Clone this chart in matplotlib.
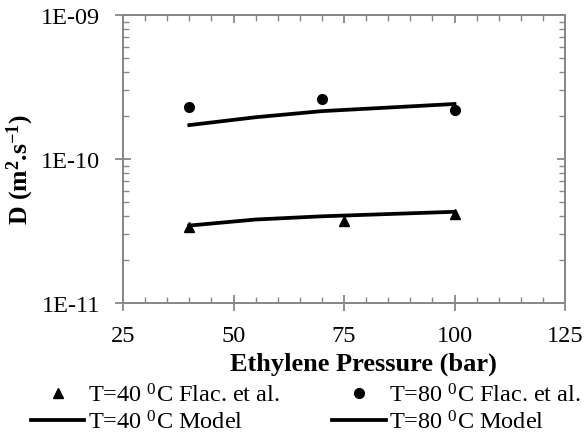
import matplotlib
matplotlib.use("Agg")
import matplotlib.pyplot as plt
from matplotlib.ticker import MultipleLocator, LogLocator, NullFormatter, FixedLocator

plt.rcParams['font.family'] = ['Liberation Serif']
plt.rcParams['mathtext.fontset'] = 'custom'
plt.rcParams['mathtext.rm'] = 'Liberation Serif'
plt.rcParams['mathtext.it'] = 'Liberation Serif:italic'
plt.rcParams['mathtext.bf'] = 'Liberation Serif:bold'

# Data
p40_exp = [40, 75, 100]
d40_exp = [3.37e-11, 3.7e-11, 4.15e-11]
p80_exp = [40, 70, 100]
d80_exp = [2.30e-10, 2.61e-10, 2.19e-10]
p_model = [40, 55, 70, 100]
d40_model = [3.45e-11, 3.8e-11, 4.0e-11, 4.3e-11]
d80_model = [1.72e-10, 1.95e-10, 2.15e-10, 2.41e-10]
yticks = [1e-11, 1e-10, 1e-9]
ytick_labels = ['1E-11', '1E-10', '1E-09']
xticks = [25, 50, 75, 100, 125]

GRAY = '#888888'
fig = plt.figure(figsize=(5.87, 4.39), dpi=100)
ax = fig.add_axes([123/587, 1-304/439, (565-123)/587, (304-16)/439])

h1, = ax.plot(p40_exp, d40_exp, linestyle='none', marker='^', color='black', markersize=6.5,
              label=r'T=40 $^{0}$C Flac. et al.')
h2, = ax.plot(p80_exp, d80_exp, linestyle='none', marker='o', color='black', markersize=7,
              label=r'T=80 $^{0}$C Flac. et al.')
h3, = ax.plot(p_model, d40_model, color='black', lw=2.7, label=r'T=40 $^{0}$C Model')
h4, = ax.plot(p_model, d80_model, color='black', lw=2.7, label=r'T=80 $^{0}$C Model')

ax.set_yscale('log')
ax.set_xlim(25, 125)
ax.set_ylim(1e-11, 1e-9)
ax.xaxis.set_major_locator(FixedLocator(xticks))
ax.xaxis.set_minor_locator(MultipleLocator(5))
ax.yaxis.set_major_locator(FixedLocator(yticks))
ax.set_yticklabels(ytick_labels)
ax.yaxis.set_minor_locator(LogLocator(base=10, subs=range(2, 10)))
ax.yaxis.set_minor_formatter(NullFormatter())

for s in ax.spines.values():
    s.set_color(GRAY)
    s.set_linewidth(1.3)
ax.tick_params(which='both', color=GRAY, labelsize=17.5)
ax.tick_params(which='major', direction='inout', length=11, width=1.3)
ax.tick_params(which='minor', direction='in', length=4.5, width=1.0)
ax.tick_params(axis='x', which='major', pad=10)
ax.tick_params(axis='y', which='major', pad=11)

# mirrored ticks on top and right (inward only)
axt = ax.twiny()
axt.set_xlim(ax.get_xlim())
axt.xaxis.set_major_locator(FixedLocator(xticks))
axt.xaxis.set_minor_locator(MultipleLocator(5))
axt.tick_params(which='both', direction='in', color=GRAY, labeltop=False)
axt.tick_params(which='major', length=6, width=1.3)
axt.tick_params(which='minor', length=4.5, width=1.0)
axr = ax.twinx()
axr.set_yscale('log')
axr.set_ylim(ax.get_ylim())
axr.yaxis.set_major_locator(FixedLocator(yticks))
axr.yaxis.set_minor_locator(LogLocator(base=10, subs=range(2, 10)))
axr.yaxis.set_minor_formatter(NullFormatter())
axr.tick_params(which='both', direction='in', color=GRAY, labelright=False)
axr.tick_params(which='major', length=6, width=1.3)
axr.tick_params(which='minor', length=4.5, width=1.0)
for a in (axt, axr):
    for s in a.spines.values():
        s.set_color(GRAY)
        s.set_linewidth(1.3)

ax.set_xlabel('Ethylene Pressure (bar)', fontsize=19, fontweight='bold')
ax.xaxis.set_label_coords((363-123)/442, (304-353)/288)
ax.set_ylabel(r'D (m$^{\mathbf{2}}$.s$^{\mathbf{-1}}$)', fontsize=18.5, fontweight='bold')
ax.yaxis.set_label_coords((36-123)/442, (304-170)/288)

fig.legend(handles=[h1, h3, h2, h4], loc='upper left', bbox_to_anchor=(31/587, 1-384/439), ncol=2,
           frameon=False, fontsize=17.5, handlelength=2.2, columnspacing=2.15,
           handletextpad=0.15, labelspacing=0.15, borderaxespad=0, borderpad=0)

fig.savefig('out.png', dpi=100)
